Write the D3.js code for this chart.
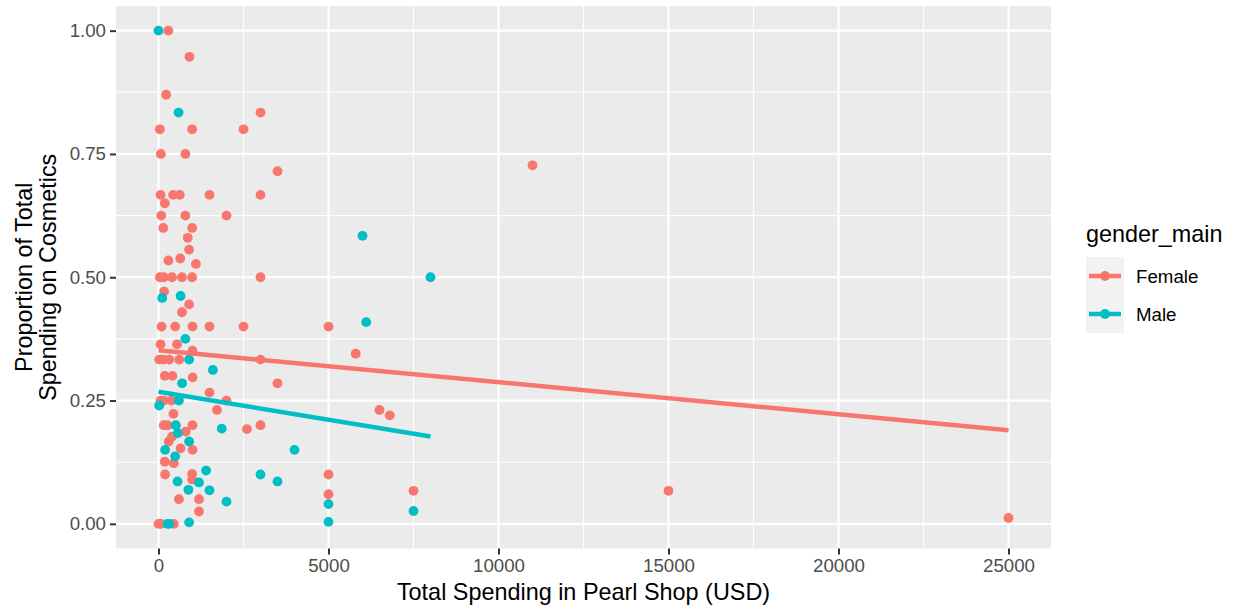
<!DOCTYPE html>
<html>
<head>
<meta charset="utf-8">
<script src="https://cdn.jsdelivr.net/npm/d3@7"></script>
<style>
  body { margin: 0; background: #fff; }
  text { font-family: "Liberation Sans", Arial, sans-serif; }
</style>
</head>
<body>
<div id="chart"></div>
<script>
// data
var groups = ["Female", "Male"];
var groupColors = ["#F8766D", "#00BFC4"];

var femaleSpend = [290, 910, 225, 3000, 40, 990, 2500, 70, 790, 3500, 11000,
  60, 430, 625, 1500, 3000, 185, 80, 790, 2000, 140, 990, 860, 900, 290, 640, 1100,
  40, 160, 400, 690, 990, 3000, 165, 900, 690,
  90, 490, 1000, 1500, 2500, 5000, 60, 545, 1000, 5800,
  20, 140, 315, 610, 3000,
  185, 410, 1005, 3500, 1500,
  60, 160, 380, 2000, 1720, 440, 6500, 6800,
  155, 270, 1000, 3000, 2600, 800, 400, 300, 650, 1000,
  185, 450, 195, 990, 990, 5000, 15000, 7500, 5000,
  600, 1190, 1190, 25000,
  0, 70, 450];
var femaleProp = [1.0, 0.947, 0.87, 0.834, 0.80, 0.80, 0.80, 0.75, 0.75, 0.715, 0.727,
  0.667, 0.667, 0.667, 0.667, 0.667, 0.65, 0.625, 0.625, 0.625, 0.6, 0.6, 0.58, 0.556, 0.534, 0.538, 0.527,
  0.5, 0.5, 0.5, 0.5, 0.5, 0.5, 0.471, 0.445, 0.429,
  0.4, 0.4, 0.4, 0.4, 0.4, 0.4, 0.364, 0.364, 0.351, 0.345,
  0.333, 0.333, 0.333, 0.333, 0.333,
  0.3, 0.3, 0.297, 0.285, 0.266,
  0.25, 0.25, 0.25, 0.25, 0.231, 0.223, 0.231, 0.22,
  0.2, 0.2, 0.2, 0.2, 0.192, 0.187, 0.177, 0.167, 0.153, 0.15,
  0.126, 0.123, 0.1, 0.101, 0.09, 0.1, 0.067, 0.067, 0.06,
  0.05, 0.05, 0.025, 0.012,
  0, 0, 0];

var maleSpend = [0, 590, 110, 650, 790, 900, 1600, 695, 600, 20, 510, 1860, 570, 900, 195, 4000, 490,
  1400, 3000, 560, 3500, 1190, 880, 1500, 2000, 5000, 7500, 6000, 8000, 6110, 265, 320, 900, 5000];
var maleProp = [1.0, 0.834, 0.458, 0.462, 0.375, 0.333, 0.312, 0.285, 0.25, 0.24, 0.2, 0.193, 0.184, 0.167, 0.15, 0.15, 0.137,
  0.108, 0.1, 0.086, 0.086, 0.084, 0.069, 0.068, 0.045, 0.04, 0.026, 0.584, 0.5, 0.409, 0, 0, 0.003, 0.004];

// fitted values of the lm lines at the low and high end of each group
var femaleFit = [0.352, 0.190];
var maleFit = [0.268, 0.177];

var xTicks = [0, 5000, 10000, 15000, 20000, 25000];
var xMinor = [2500, 7500, 12500, 17500, 22500];
var yTicks = [0, 0.25, 0.5, 0.75, 1];
var yMinor = [0.125, 0.375, 0.625, 0.875];

var width = 1233, height = 610;
var panel = {left: 116, right: 1051, top: 6, bottom: 548.5};

var svg = d3.select("#chart").append("svg")
    .attr("width", width)
    .attr("height", height);

var x = d3.scaleLinear()
    .domain([-1250, 26250])
    .range([panel.left, panel.right]);
var y = d3.scaleLinear()
    .domain([-0.05, 1.05])
    .range([panel.bottom, panel.top]);

var color = d3.scaleOrdinal().domain(groups).range(groupColors);

// panel + grid
svg.append("rect")
    .attr("x", panel.left).attr("y", panel.top)
    .attr("width", panel.right - panel.left)
    .attr("height", panel.bottom - panel.top)
    .attr("fill", "#EBEBEB");

var grid = svg.append("g").attr("stroke", "#fff");
grid.selectAll(".xminor").data(xMinor).enter().append("line")
    .attr("x1", function(d) { return x(d); }).attr("x2", function(d) { return x(d); })
    .attr("y1", panel.top).attr("y2", panel.bottom)
    .attr("stroke-width", 1.1);
grid.selectAll(".yminor").data(yMinor).enter().append("line")
    .attr("y1", function(d) { return y(d); }).attr("y2", function(d) { return y(d); })
    .attr("x1", panel.left).attr("x2", panel.right)
    .attr("stroke-width", 1.1);
grid.selectAll(".xmajor").data(xTicks).enter().append("line")
    .attr("x1", function(d) { return x(d); }).attr("x2", function(d) { return x(d); })
    .attr("y1", panel.top).attr("y2", panel.bottom)
    .attr("stroke-width", 2.2);
grid.selectAll(".ymajor").data(yTicks).enter().append("line")
    .attr("y1", function(d) { return y(d); }).attr("y2", function(d) { return y(d); })
    .attr("x1", panel.left).attr("x2", panel.right)
    .attr("stroke-width", 2.2);

// axes
var xAxis = d3.axisBottom(x).tickValues(xTicks).tickSize(6).tickPadding(4)
    .tickFormat(d3.format("d"));
var yAxis = d3.axisLeft(y).tickValues(yTicks).tickSize(6).tickPadding(4)
    .tickFormat(d3.format(".2f"));

function styleAxis(g) {
  g.select(".domain").remove();
  g.selectAll(".tick line").attr("stroke", "#333333").attr("stroke-width", 2);
  g.selectAll(".tick text")
      .attr("fill", "#4D4D4D")
      .style("font-size", "18.7px")
      .style("font-family", "'Liberation Sans', Arial, sans-serif");
}

svg.append("g")
    .attr("transform", "translate(0," + panel.bottom + ")")
    .call(xAxis)
    .call(styleAxis);
svg.append("g")
    .attr("transform", "translate(" + panel.left + ",0)")
    .call(yAxis)
    .call(styleAxis);

// points
var points = [];
femaleSpend.forEach(function(v, i) { points.push({g: "Female", x: v, y: femaleProp[i]}); });
maleSpend.forEach(function(v, i) { points.push({g: "Male", x: v, y: maleProp[i]}); });

svg.append("g").selectAll("circle")
    .data(points)
    .enter().append("circle")
      .attr("cx", function(d) { return x(d.x); })
      .attr("cy", function(d) { return y(d.y); })
      .attr("r", 4.9)
      .attr("fill", function(d) { return color(d.g); });

// lm lines
var fits = [
  {g: "Female", xs: d3.extent(femaleSpend), ys: femaleFit},
  {g: "Male", xs: d3.extent(maleSpend), ys: maleFit}
];
svg.append("g").selectAll("line")
    .data(fits)
    .enter().append("line")
      .attr("x1", function(d) { return x(d.xs[0]); })
      .attr("x2", function(d) { return x(d.xs[1]); })
      .attr("y1", function(d) { return y(d.ys[0]); })
      .attr("y2", function(d) { return y(d.ys[1]); })
      .attr("stroke", function(d) { return color(d.g); })
      .attr("stroke-width", 4.5);

// axis titles
svg.append("text")
    .attr("x", (panel.left + panel.right) / 2)
    .attr("y", 600)
    .attr("text-anchor", "middle")
    .style("font-size", "23.4px")
    .text("Total Spending in Pearl Shop (USD)");

var yTitle = svg.append("text")
    .attr("transform", "translate(32," + ((panel.top + panel.bottom) / 2) + ") rotate(-90)")
    .attr("text-anchor", "middle")
    .style("font-size", "23.4px");
yTitle.append("tspan").attr("x", 0).attr("y", 0).text("Proportion of Total");
yTitle.append("tspan").attr("x", 0).attr("y", 24).text("Spending on Cosmetics");

// legend
var legend = svg.append("g").attr("transform", "translate(1086,0)");
legend.append("text")
    .attr("x", 0).attr("y", 242)
    .style("font-size", "23.4px")
    .text("gender_main");

var key = legend.selectAll(".key")
    .data(groups)
    .enter().append("g")
      .attr("transform", function(d, i) { return "translate(0," + (257 + i * 38) + ")"; });
key.append("rect")
    .attr("width", 38).attr("height", 38)
    .attr("fill", "#F2F2F2");
key.append("line")
    .attr("x1", 3).attr("x2", 35)
    .attr("y1", 19).attr("y2", 19)
    .attr("stroke", function(d) { return color(d); })
    .attr("stroke-width", 4.5);
key.append("circle")
    .attr("cx", 19).attr("cy", 19).attr("r", 4.9)
    .attr("fill", function(d) { return color(d); });
key.append("text")
    .attr("x", 50).attr("y", 26)
    .style("font-size", "18.7px")
    .text(function(d) { return d; });
</script>
</body>
</html>
